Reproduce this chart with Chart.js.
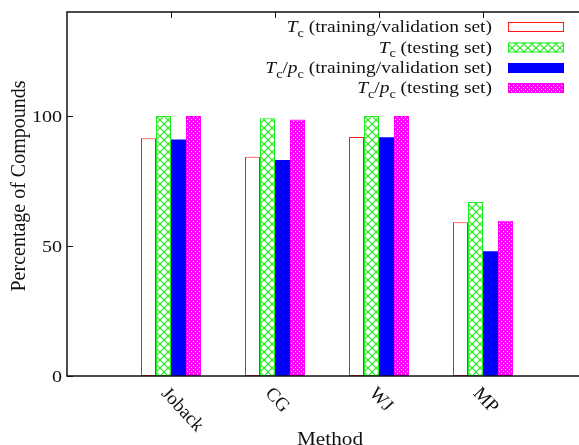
<!DOCTYPE html>
<html>
<head>
<meta charset="utf-8">
<script src="https://cdn.jsdelivr.net/npm/chart.js@4/dist/chart.umd.min.js"></script>
<style>
  html, body { margin: 0; padding: 0; background: #fff; overflow: hidden; }
  #wrap { position: relative; width: 600px; height: 445px; }
  .warm { position: absolute; left: -999px; font-family: "Liberation Serif"; }
</style>
</head>
<body>
<span class="warm">Tc <i>Tp</i></span>
<div id="wrap"><canvas id="chart"></canvas></div>
<script>
// Share of compounds per estimation method
const methods = ["Joback", "CG", "WJ", "MP"];
const tcTrain = [91.4, 84.3, 91.9, 59.1];
const tcTest = [100, 99.1, 100, 66.9];
const tcpcTrain = [91.0, 83.1, 91.8, 48.0];
const tcpcTest = [100, 98.7, 100, 59.7];
const yTicks = [0, 50, 100];

const FONT = '"Liberation Serif", "Times New Roman", serif';
const INK = "#111";
const SX = 1.18; // horizontal stretch applied to text

// empty slots either side so the frame spans one category past each end
const padded = (arr) => [null, ...arr, null];
const labels = ["", ...methods, ""];

function crossPattern(color) {
  const c = document.createElement("canvas");
  c.width = 8; c.height = 8;
  const g = c.getContext("2d");
  g.fillStyle = "#fff";
  g.fillRect(0, 0, 8, 8);
  g.strokeStyle = color;
  g.lineWidth = 1.2;
  g.beginPath();
  g.moveTo(0, 0); g.lineTo(8, 8);
  g.moveTo(8, 0); g.lineTo(0, 8);
  g.stroke();
  return g.createPattern(c, "repeat");
}

function dotPattern(color) {
  const c = document.createElement("canvas");
  c.width = 4; c.height = 4;
  const g = c.getContext("2d");
  g.fillStyle = color;
  g.fillRect(0, 0, 4, 4);
  g.fillStyle = "#fff";
  g.fillRect(1, 1, 1, 1);
  g.fillRect(3, 3, 1, 1);
  return g.createPattern(c, "repeat");
}

const RED = "#ff1a1a";
const GREEN = "#1eee1e";
const BLUE = "#0000ff";
const MAGENTA = "#ff00ff";
const greenFill = crossPattern(GREEN);
const magentaFill = dotPattern(MAGENTA);

// legend entries: runs of text, italic / subscript pieces
const legendItems = [
  { runs: [["T", "i"], ["c", "s"], [" (training/validation set)", ""]], fill: "#fff", stroke: RED },
  { runs: [["T", "i"], ["c", "s"], [" (testing set)", ""]], fill: greenFill, stroke: GREEN },
  { runs: [["T", "i"], ["c", "s"], ["/", ""], ["p", "i"], ["c", "s"], [" (training/validation set)", ""]], fill: BLUE, stroke: BLUE },
  { runs: [["T", "i"], ["c", "s"], ["/", ""], ["p", "i"], ["c", "s"], [" (testing set)", ""]], fill: magentaFill, stroke: MAGENTA }
];

function runFont(kind, size) {
  if (kind === "s") return `${Math.round(size * 0.72)}px ${FONT}`;
  if (kind === "i") return `italic ${size}px ${FONT}`;
  return `${size}px ${FONT}`;
}

/** Draws runs of text with a horizontal stretch, right- or left-aligned at x. */
function drawRuns(ctx, runs, x, y, size, align) {
  let w = 0;
  runs.forEach(([t, k]) => {
    ctx.font = runFont(k, size);
    w += ctx.measureText(t).width;
  });
  const start = align === "right" ? x - w * SX : align === "center" ? x - (w * SX) / 2 : x;
  ctx.save();
  ctx.translate(start, y);
  ctx.scale(SX, 1);
  ctx.textAlign = "left";
  ctx.textBaseline = "alphabetic";
  ctx.fillStyle = INK;
  let cx = 0;
  runs.forEach(([t, k]) => {
    ctx.font = runFont(k, size);
    ctx.fillText(t, cx, k === "s" ? size * 0.3 : 0);
    cx += ctx.measureText(t).width;
  });
  ctx.restore();
}

const framePlugin = {
  id: "frame",
  afterDatasetsDraw(chart) {
    const { ctx, chartArea: a, scales } = chart;
    ctx.save();
    ctx.strokeStyle = INK;
    ctx.lineWidth = 1.5;
    ctx.strokeRect(a.left, a.top, a.right - a.left, a.bottom - a.top);

    ctx.lineWidth = 1;
    ctx.beginPath();
    methods.forEach((_, i) => {
      const px = Math.round(scales.x.getPixelForValue(i + 1)) + 0.5;
      ctx.moveTo(px, a.top); ctx.lineTo(px, a.top + 6);
    });
    yTicks.forEach((v) => {
      const py = Math.round(scales.y.getPixelForValue(v)) + 0.5;
      ctx.moveTo(a.left, py); ctx.lineTo(a.left + 6, py);
      ctx.moveTo(a.right, py); ctx.lineTo(a.right - 6, py);
    });
    ctx.stroke();
    ctx.restore();
  },
  afterDraw(chart) {
    const { ctx, chartArea: a, scales } = chart;

    // y tick labels
    yTicks.forEach((v) => {
      const py = scales.y.getPixelForValue(v);
      drawRuns(ctx, [[String(v), ""]], a.left - 5, py + 6, 17, "right");
    });

    // x tick labels, slanted down to the right
    ctx.save();
    ctx.fillStyle = INK;
    ctx.font = `19px ${FONT}`;
    ctx.textAlign = "left";
    ctx.textBaseline = "top";
    methods.forEach((m, i) => {
      const px = scales.x.getPixelForValue(i + 1);
      ctx.save();
      ctx.translate(px, a.bottom + 8);
      ctx.rotate((47 * Math.PI) / 180);
      ctx.fillText(m, 0, 0);
      ctx.restore();
    });
    ctx.restore();

    // axis titles
    drawRuns(ctx, [["Method", ""]], 330, 445, 18, "center");
    ctx.save();
    ctx.fillStyle = INK;
    ctx.font = `20px ${FONT}`;
    ctx.textAlign = "center";
    ctx.textBaseline = "alphabetic";
    ctx.translate(25, 186);
    ctx.rotate(-Math.PI / 2);
    ctx.fillText("Percentage of Compounds", 0, 0);
    ctx.restore();

    // key in the upper right
    const centers = [27, 47.5, 68, 88];
    legendItems.forEach((item, i) => {
      const cy = centers[i];
      drawRuns(ctx, item.runs, 492, cy + 5, 16.5, "right");
      ctx.save();
      ctx.fillStyle = item.fill;
      ctx.fillRect(508, cy - 5, 56, 10);
      ctx.strokeStyle = item.stroke;
      ctx.lineWidth = 1;
      ctx.strokeRect(508.5, cy - 4.5, 55, 9);
      ctx.restore();
    });
  }
};

function drawChart() {
  new Chart(document.getElementById("chart"), {
    type: "bar",
    data: {
      labels: labels,
      datasets: [
        { label: "Tc (training/validation set)", data: padded(tcTrain), backgroundColor: "#fff", borderColor: RED, borderWidth: 1, borderSkipped: false },
        { label: "Tc (testing set)", data: padded(tcTest), backgroundColor: greenFill, borderColor: GREEN, borderWidth: 1, borderSkipped: false },
        { label: "Tc/pc (training/validation set)", data: padded(tcpcTrain), backgroundColor: BLUE, borderColor: BLUE, borderWidth: 0 },
        { label: "Tc/pc (testing set)", data: padded(tcpcTest), backgroundColor: magentaFill, borderColor: MAGENTA, borderWidth: 1, borderSkipped: false }
      ]
    },
    options: {
      responsive: true,
      maintainAspectRatio: false,
      animation: false,
      layout: { padding: { top: 12, right: 13, left: 0, bottom: 0 } },
      datasets: { bar: { barPercentage: 1, categoryPercentage: 60 / 104, inflateAmount: 0 } },
      plugins: {
        legend: { display: false },
        tooltip: { enabled: false }
      },
      scales: {
        x: {
          offset: false,
          grid: { display: false },
          border: { display: false },
          ticks: { display: false },
          afterFit: (s) => { s.height = 69; }
        },
        y: {
          min: 0,
          max: 140,
          grid: { display: false },
          border: { display: false },
          ticks: { display: false, stepSize: 50 },
          afterFit: (s) => { s.width = 67; }
        }
      }
    },
    plugins: [framePlugin]
  });
}

Promise.all([
  document.fonts.load('16px "Liberation Serif"'),
  document.fonts.load('italic 16px "Liberation Serif"')
]).then(drawChart, drawChart);
</script>
</body>
</html>
